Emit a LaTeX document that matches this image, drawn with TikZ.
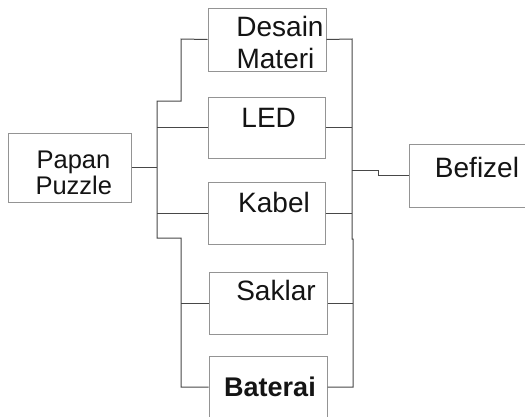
\documentclass[tikz,border=0pt]{standalone}
\usepackage{fontspec}
\setmainfont{Liberation Sans}
\begin{document}
\begin{tikzpicture}[x=1pt,y=-1pt,
  box/.style={draw=black!42,line width=1pt,rectangle,inner sep=0pt},
  wire/.style={draw=black!72,line width=1pt},
  lbl/.style={anchor=base,inner sep=0pt,text=black!92,font=\fontsize{28}{30}\selectfont},
  lbls/.style={anchor=base,inner sep=0pt,text=black!92,font=\fontsize{25.5}{28}\selectfont}]
\clip (0,0) rectangle (525,416);
\fill[white] (0,0) rectangle (525,416);
% boxes
\node[box,minimum width=118pt,minimum height=63pt] (desain) at (267,39.5) {};
\node[box,minimum width=117pt,minimum height=61pt] (led) at (266.5,127.5) {};
\node[box,minimum width=117pt,minimum height=62pt] (kabel) at (266.5,213) {};
\node[box,minimum width=118pt,minimum height=62pt] (saklar) at (268,303) {};
\node[box,minimum width=118pt,minimum height=62pt] (baterai) at (268,387) {};
\node[box,minimum width=123pt,minimum height=69pt] (papan) at (69.5,167.5) {};
\node[box,minimum width=131pt,minimum height=63pt] (befizel) at (474.5,175.5) {};
% texts
\node[lbl] (tdesain) at (280,36.7) {Desain};
\node[lbl] (tmateri) at (275.5,68) {Materi};
\node[lbl] (tled) at (268.7,127) {LED};
\node[lbl] (tkabel) at (274,212) {Kabel};
\node[lbl] (tsaklar) at (276,300.7) {Saklar};
\node[lbl,font=\fontsize{27}{30}\selectfont\bfseries] (tbaterai) at (270,396.7) {Baterai};
\node[lbl] (tbefizel) at (477,177) {Befizel};
\node[lbls] (tpapan) at (73.5,168) {Papan};
\node[lbls] (tpuzzle) at (73.8,194) {Puzzle};
% coordinates
\coordinate (la) at (181,39);
\coordinate (lb) at (181,101);
\coordinate (lc) at (157,101);
\coordinate (ld) at (157,238);
\coordinate (le) at (181,238);
\coordinate (lf) at (181,387);
\coordinate (lmid) at (157,167.5);
\coordinate (ra) at (352,39);
\coordinate (rb) at (352,239);
\coordinate (rc) at (353,239);
\coordinate (rd) at (353,387);
\coordinate (rmid) at (352,170);
\coordinate (sa) at (378,170);
\coordinate (sb) at (378,175.5);
% left bus
\draw[wire] (desain.west) -- (la) -- (lb) -- (lc) -- (ld) -- (le) -- (lf) -- (baterai.west);
\draw[wire] (papan.east) -- (lmid);
\draw[wire] (led.west) -- (led.west -| lc);
\draw[wire] (kabel.west) -- (kabel.west -| lc);
\draw[wire] (saklar.west) -- (saklar.west -| le);
% right bus
\draw[wire] (desain.east) -- (ra) -- (rb) -- (rc) -- (rd) -- (baterai.east);
\draw[wire] (led.east) -- (led.east -| ra);
\draw[wire] (kabel.east) -- (kabel.east -| ra);
\draw[wire] (saklar.east) -- (saklar.east -| rc);
\draw[wire] (rmid) -- (sa) -- (sb) -- (befizel.west);
\end{tikzpicture}
\end{document}
